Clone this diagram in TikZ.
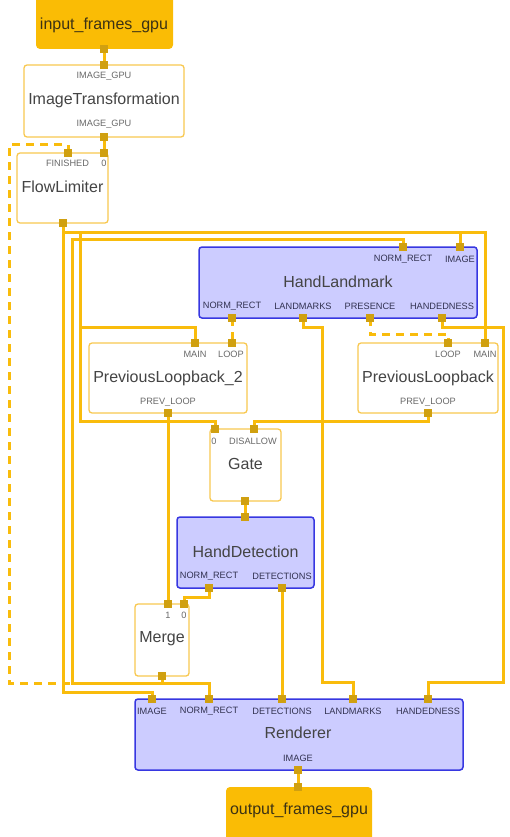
\documentclass[tikz,border=0pt]{standalone}
\usepackage{fontspec}
\setmainfont{Liberation Sans}
\usetikzlibrary{calc}
\definecolor{lineC}{RGB}{249,188,12}
\definecolor{portC}{RGB}{208,160,16}
\definecolor{ioC}{RGB}{250,188,5}
\definecolor{wborder}{RGB}{248,200,80}
\definecolor{bfill}{RGB}{204,204,255}
\definecolor{bborder}{RGB}{55,55,225}
\definecolor{titleC}{RGB}{68,68,68}
\definecolor{lblC}{RGB}{105,105,105}
\definecolor{iotext}{RGB}{60,50,20}
\begin{document}
\begin{tikzpicture}[x=1pt,y=-1pt,
  ln/.style={draw=lineC,line width=3pt},
  dln/.style={draw=lineC,line width=3pt,dash pattern=on 8pt off 6pt},
  port/.style={rectangle,fill=portC,inner sep=0pt,minimum size=7.5pt},
  wbox/.style={rectangle,draw=wborder,fill=white,rounded corners=3pt,line width=1.3pt,inner sep=0pt},
  bbox/.style={rectangle,draw=bborder,fill=bfill,rounded corners=3pt,line width=1.5pt,inner sep=0pt},
  iobox/.style={rectangle,fill=ioC,rounded corners=4pt,inner sep=0pt},
  ttl/.style={inner sep=0pt,text=titleC,font=\fontsize{16}{17}\selectfont},
  iottl/.style={inner sep=0pt,text=iotext,font=\fontsize{16}{17}\selectfont},
  lbl/.style={inner sep=0pt,text=lblC,font=\fontsize{9.2}{10}\selectfont},
  blbl/.style={inner sep=0pt,text=lblC!80!blue!60!black,font=\fontsize{9.2}{10}\selectfont}
]
\useasboundingbox (0,0) rectangle (510,837);
% ---------- boxes ----------
\node[iobox,minimum width=137pt,minimum height=55pt] (in) at (104.5,21.5) {};
\node[wbox,minimum width=160pt,minimum height=72pt] (it) at (104,101) {};
\node[wbox,minimum width=91pt,minimum height=70pt] (fl) at (62.5,188) {};
\node[bbox,minimum width=278pt,minimum height=71pt] (hl) at (338,282.5) {};
\node[wbox,minimum width=158pt,minimum height=70pt] (pltwo) at (168,378) {};
\node[wbox,minimum width=140pt,minimum height=70pt] (pl) at (428,378) {};
\node[wbox,minimum width=71pt,minimum height=72pt] (gate) at (245.5,465) {};
\node[bbox,minimum width=137pt,minimum height=71pt] (hd) at (245.5,552.5) {};
\node[wbox,minimum width=54pt,minimum height=72pt] (merge) at (162,640) {};
\node[bbox,minimum width=328pt,minimum height=71pt] (rend) at (299,734.5) {};
\node[iobox,minimum width=146pt,minimum height=58pt] (out) at (299,816) {};
% ---------- port coordinates ----------
\coordinate (in-o) at (104,49);
\coordinate (it-i) at (104,65);
\coordinate (it-o) at (104,137);
\coordinate (fl-z) at (104,153);
\coordinate (fl-f) at (68,153);
\coordinate (fl-o) at (63,223);
\coordinate (hl-nri) at (403,247);
\coordinate (hl-img) at (460,247);
\coordinate (hl-nro) at (232,318);
\coordinate (hl-lm) at (303,318);
\coordinate (hl-pr) at (370,318);
\coordinate (hl-hd) at (442,318);
\coordinate (p2-main) at (195,343);
\coordinate (p2-loop) at (232,343);
\coordinate (p2-prev) at (168,413);
\coordinate (p-loop) at (448,343);
\coordinate (p-main) at (485,343);
\coordinate (p-prev) at (428,413);
\coordinate (g-z) at (215,429);
\coordinate (g-dis) at (254,429);
\coordinate (g-o) at (245,501);
\coordinate (hd-i) at (245,517);
\coordinate (hd-nr) at (209,588);
\coordinate (hd-det) at (282,588);
\coordinate (m-one) at (168,604);
\coordinate (m-zero) at (184,604);
\coordinate (m-o) at (162,676);
\coordinate (r-img) at (152,699);
\coordinate (r-nr) at (209,699);
\coordinate (r-det) at (282,699);
\coordinate (r-lm) at (353,699);
\coordinate (r-hd) at (428,699);
\coordinate (r-o) at (298,770);
\coordinate (o-i) at (298,787);
% bend helpers
\coordinate (busA) at (80,232);
\coordinate (busB) at (80,327);
\coordinate (mleft) at (72,683);
\coordinate (dcorner) at (9,683);
\coordinate (lmcorner) at (322,682);
\coordinate (hdcorner) at (503,682);
% ---------- connectors ----------
\draw[ln] (in-o) -- (it-i);
\draw[ln] (it-o) -- (fl-z);
\draw[ln] (fl-o) -- ++(0,469) -| (r-img);
\draw[ln] (fl-o) ++(0,9) -| (p-main);
\draw[ln] (hl-img) -- ++(0,-15);
\draw[ln] (g-z) -- ++(0,-8) -| (busA);
\draw[ln] (p2-main) |- (busB);
\draw[ln] (m-o) -- ++(0,7) -| (r-nr);
\draw[ln] (m-o) ++(0,7) -- (mleft) |- ($(hl-nri)+(0,-8)$) -- (hl-nri);
\draw[dln] (hl-nro) -- (p2-loop);
\draw[dln] (hl-pr) -- ++(0,16) -| (p-loop);
\draw[ln] (hl-lm) -- ++(0,9) -| (lmcorner) -| (r-lm);
\draw[ln] (hl-hd) -- ++(0,9) -| (hdcorner) -| (r-hd);
\draw[ln] (p2-prev) -- (m-one);
\draw[ln] (p-prev) -- ++(0,8) -| (g-dis);
\draw[ln] (g-o) -- (hd-i);
\draw[ln] (hd-nr) -- ++(0,9) -| (m-zero);
\draw[ln] (hd-det) -- (r-det);
\draw[ln] (r-o) -- (o-i);
\draw[dln] (fl-f) -- ++(0,-8) -| (dcorner) -- (mleft);
% ---------- port squares ----------
\foreach \p in {in-o,it-i,it-o,fl-z,fl-f,fl-o,hl-nri,hl-img,hl-nro,hl-lm,hl-pr,hl-hd,
  p2-main,p2-loop,p2-prev,p-loop,p-main,p-prev,g-z,g-dis,g-o,hd-i,hd-nr,hd-det,
  m-one,m-zero,m-o,r-img,r-nr,r-det,r-lm,r-hd,r-o,o-i}
  \node[port] (sq-\p) at (\p) {};
% ---------- texts ----------
\node[iottl] (t-in) at (104,25) {input\_frames\_gpu};
\node[lbl] (l-it1) at (104,76) {IMAGE\_GPU};
\node[ttl] (t-it) at (104,100) {ImageTransformation};
\node[lbl] (l-it2) at (104,124) {IMAGE\_GPU};
\node[lbl] (l-fl1) at (67.5,163) {FINISHED};
\node[lbl] (l-fl2) at (104,163) {0};
\node[ttl] (t-fl) at (62.5,187) {FlowLimiter};
\node[blbl] (l-hl1) at (403,259) {NORM\_RECT};
\node[blbl] (l-hl2) at (460,259) {IMAGE};
\node[ttl] (t-hl) at (338,282) {HandLandmark};
\node[blbl] (l-hl3) at (232,306) {NORM\_RECT};
\node[blbl] (l-hl4) at (303,306) {LANDMARKS};
\node[blbl] (l-hl5) at (370,306) {PRESENCE};
\node[blbl] (l-hl6) at (442,306) {HANDEDNESS};
\node[lbl] (l-p21) at (195,354) {MAIN};
\node[lbl] (l-p22) at (231,354) {LOOP};
\node[ttl] (t-p2) at (168,378) {PreviousLoopback\_2};
\node[lbl] (l-p23) at (168,402) {PREV\_LOOP};
\node[lbl] (l-p1) at (448,354) {LOOP};
\node[lbl] (l-p2) at (485,354) {MAIN};
\node[ttl] (t-p) at (428,378) {PreviousLoopback};
\node[lbl] (l-p3) at (428,402) {PREV\_LOOP};
\node[lbl] (l-g1) at (214,441) {0};
\node[lbl] (l-g2) at (253,441) {DISALLOW};
\node[ttl] (t-g) at (245.5,464) {Gate};
\node[ttl] (t-hd) at (245.5,552) {HandDetection};
\node[blbl] (l-hd1) at (209,576) {NORM\_RECT};
\node[blbl] (l-hd2) at (282,576) {DETECTIONS};
\node[lbl] (l-m1) at (168,615) {1};
\node[lbl] (l-m2) at (184,615) {0};
\node[ttl] (t-m) at (162,639) {Merge};
\node[blbl] (l-r1) at (152,711) {IMAGE};
\node[blbl] (l-r2) at (209,711) {NORM\_RECT};
\node[blbl] (l-r3) at (282,711) {DETECTIONS};
\node[blbl] (l-r4) at (353,711) {LANDMARKS};
\node[blbl] (l-r5) at (428,711) {HANDEDNESS};
\node[ttl] (t-r) at (298,733) {Renderer};
\node[blbl] (l-r6) at (298,758) {IMAGE};
\node[iottl] (t-out) at (299,810) {output\_frames\_gpu};
\end{tikzpicture}
\end{document}
